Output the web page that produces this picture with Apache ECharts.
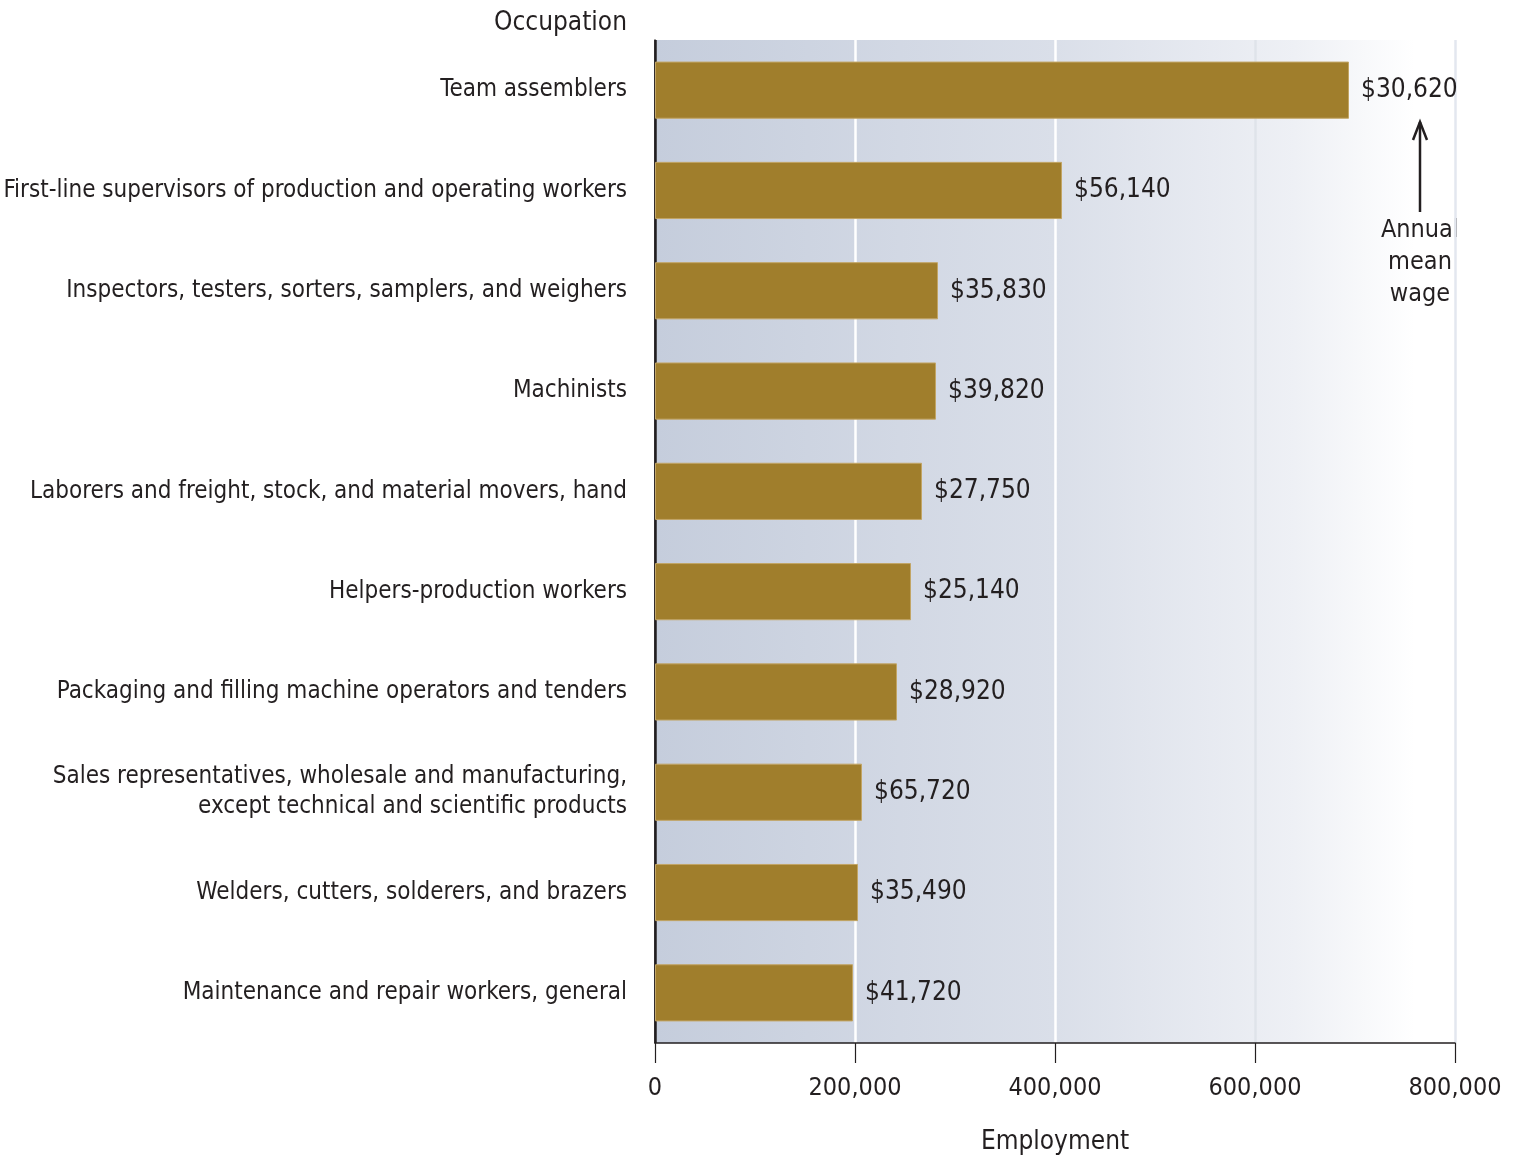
<!DOCTYPE html>
<html>
<head>
<meta charset="utf-8">
<script src="https://cdn.jsdelivr.net/npm/echarts@6/dist/echarts.min.js"></script>
<style>
  html, body { margin: 0; padding: 0; background: #fff; }
  #chart { width: 1517px; height: 1157px; }
</style>
</head>
<body>
<div id="chart"></div>
<script>
// occupations, top to bottom
var occupations = [
  'Team assemblers',
  'First-line supervisors of production and operating workers',
  'Inspectors, testers, sorters, samplers, and weighers',
  'Machinists',
  'Laborers and freight, stock, and material movers, hand',
  'Helpers-production workers',
  'Packaging and filling machine operators and tenders',
  'Sales representatives, wholesale and manufacturing,\nexcept technical and scientific products',
  'Welders, cutters, solderers, and brazers',
  'Maintenance and repair workers, general'
];
var employment = [694000, 407000, 283000, 281000, 267000, 256000, 242000, 207000, 203000, 198000];
var wages = ['$30,620', '$56,140', '$35,830', '$39,820', '$27,750', '$25,140', '$28,920', '$65,720', '$35,490', '$41,720'];
var xTicks = [0, 200000, 400000, 600000, 800000];

var FONT = "'Liberation Sans Narrow', 'DejaVu Sans Condensed', 'Roboto Condensed', sans-serif";
var TXT = '#231f20';

var chart = echarts.init(document.getElementById('chart'));
chart.setOption({
  animation: false,
  textStyle: { fontFamily: FONT },
  grid: {
    left: 655, right: 62, top: 40, bottom: 114,
    outerBoundsMode: 'none',
    containLabel: false,
    show: true,
    borderWidth: 0,
    backgroundColor: {
      type: 'linear', x: 0, y: 0, x2: 1, y2: 0,
      colorStops: [
        { offset: 0, color: '#c5cddc' },
        { offset: 0.5, color: '#dadfe9' },
        { offset: 0.8, color: '#eef0f5' },
        { offset: 0.95, color: '#ffffff' },
        { offset: 1, color: '#ffffff' }
      ]
    }
  },
  xAxis: {
    type: 'value',
    min: xTicks[0],
    max: xTicks[xTicks.length - 1],
    interval: 200000,
    name: 'Employment',
    nameLocation: 'middle',
    nameGap: 86,
    nameTextStyle: { fontSize: 26, color: TXT, fontFamily: FONT },
    axisLine: { show: true, lineStyle: { color: '#231f20', width: 1.5 } },
    axisTick: { show: true, inside: false, length: 20, lineStyle: { color: '#231f20', width: 1.2 } },
    axisLabel: {
      fontSize: 25, color: TXT, fontFamily: FONT, margin: 33,
      formatter: function (v) { return v === 0 ? '0' : v.toLocaleString('en-US'); }
    },
    splitLine: {
      show: true,
      showMinLine: true,
      showMaxLine: true,
      lineStyle: { color: ['#231f20', '#ffffff', '#ffffff', '#dfe3ea', '#e3e7ef'], width: 2.5 }
    }
  },
  yAxis: {
    type: 'category',
    inverse: true,
    data: occupations,
    axisLine: { show: true, lineStyle: { color: '#231f20', width: 1.5 } },
    axisTick: { show: false },
    axisLabel: {
      fontSize: 24, color: TXT, fontFamily: FONT, margin: 28,
      lineHeight: 30, align: 'right', verticalAlign: 'middle',
      padding: [0, 0, 12, 0]
    }
  },
  series: [{
    type: 'bar',
    data: employment,
    barWidth: '57%',
    itemStyle: { color: '#a07e2c', borderColor: '#c2a565', borderWidth: 1 },
    label: {
      show: true,
      position: 'right',
      distance: 12,
      fontSize: 26,
      color: TXT,
      fontFamily: FONT,
      formatter: function (p) { return wages[p.dataIndex]; }
    }
  }],
  graphic: [
    {
      type: 'text', right: 1517 - 627, top: 10,
      style: { text: 'Occupation', font: '26px ' + FONT, fill: TXT, textAlign: 'right' }
    },
    {
      type: 'line', shape: { x1: 1420, y1: 212, x2: 1420, y2: 122 },
      style: { stroke: '#231f20', lineWidth: 2.5 }
    },
    {
      type: 'polyline', shape: { points: [[1413, 140], [1420, 122], [1427, 140]] },
      style: { stroke: '#231f20', lineWidth: 2.5, fill: null }
    },
    {
      type: 'text', x: 1420, y: 214,
      style: {
        text: 'Annual\nmean\nwage', font: '25px ' + FONT, fill: TXT,
        textAlign: 'center', lineHeight: 32
      }
    }
  ]
});
</script>
</body>
</html>
